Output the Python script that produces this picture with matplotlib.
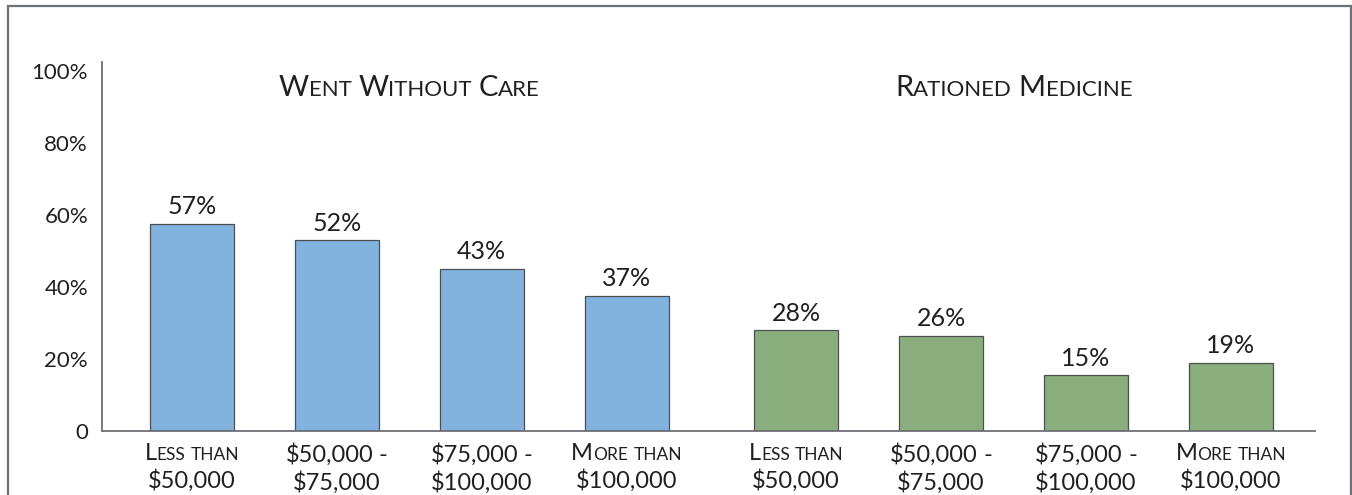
import matplotlib
matplotlib.use("Agg")
import matplotlib.pyplot as plt
from matplotlib.offsetbox import TextArea, HPacker, VPacker, AnnotationBbox
from matplotlib.patches import Rectangle

plt.rcParams['font.family'] = ['Lato', 'DejaVu Sans']

# ---- data ----
groups = ["Went Without Care", "Rationed Medicine"]
income_line1 = ["Less than", "$50,000 -", "$75,000 -", "More than"]
income_line2 = ["$50,000", "$75,000", "$100,000", "$100,000"]
went_without_care = [57.5, 53, 45, 37.5]
rationed_medicine = [28, 26.5, 15.5, 19]
went_labels = ["57%", "52%", "43%", "37%"]
rationed_labels = ["28%", "26%", "15%", "19%"]
yticks = [0, 20, 40, 60, 80, 100]
ytick_labels = ["0", "20%", "40%", "60%", "80%", "100%"]

BLUE = "#82B2DE"
GREEN = "#8AAD7D"
EDGE = "#4d4f53"
TEXT = "#231f20"
AXIS = "#6d7075"

fig = plt.figure(figsize=(13.52, 4.95), dpi=100)
# outer frame
fig.patches.append(Rectangle((7.5 / 1352, -0.1), (1350.5 - 7.5) / 1352, 1 - 6.5 / 495 + 0.1,
                             transform=fig.transFigure, fill=False, edgecolor=AXIS, lw=1.6))

ax = fig.add_axes([102 / 1352, 1 - 431 / 495, (1315 - 102) / 1352, (431 - 62) / 495])

n = len(income_line1)
gap = 0.17
x1 = [i for i in range(n)]
x2 = [n + gap + i for i in range(n)]
w = 0.58

ax.bar(x1, went_without_care, width=w, color=BLUE, edgecolor=EDGE, linewidth=0.9, zorder=2)
ax.bar(x2, rationed_medicine, width=w, color=GREEN, edgecolor=EDGE, linewidth=0.9, zorder=2)

for xs, vals, labs in [(x1, went_without_care, went_labels), (x2, rationed_medicine, rationed_labels)]:
    for x, v, l in zip(xs, vals, labs):
        ax.annotate(l, (x, v), xytext=(0, 4), textcoords="offset points",
                    ha="center", va="bottom", fontsize=18, color=TEXT)

ax.set_xlim(-0.62, x2[-1] + 0.58)
ax.set_ylim(0, 102.5)
ax.set_yticks(yticks)
ax.set_yticklabels(ytick_labels, fontsize=16, color=TEXT)
ax.tick_params(axis="y", length=0, pad=10)
ax.set_xticks([])
for s in ["top", "right"]:
    ax.spines[s].set_visible(False)
for s in ["left", "bottom"]:
    ax.spines[s].set_color(AXIS)
    ax.spines[s].set_linewidth(1.3)


def smallcaps(text, big, small, color=TEXT, wordsep=None):
    words = text.split(" ")
    if wordsep is None:
        wordsep = small * 0.3
    wboxes = []
    for wd in words:
        runs = []
        for ch in wd:
            up = not ch.islower()
            if runs and runs[-1][0] == up:
                runs[-1][1] += ch
            else:
                runs.append([up, ch])
        parts = [TextArea(s.upper(), textprops=dict(fontsize=big if up else small, color=color))
                 for up, s in runs]
        wboxes.append(HPacker(children=parts, align="baseline", pad=0, sep=0))
    return HPacker(children=wboxes, align="baseline", pad=0, sep=wordsep)


# group titles
for xs, title in [(x1, groups[0]), (x2, groups[1])]:
    cx = (xs[0] + xs[-1]) / 2
    box = smallcaps(title, 21, 16)
    ab = AnnotationBbox(box, (cx, 95.3), xycoords="data", frameon=False,
                        box_alignment=(0.5, 0.5), pad=0, annotation_clip=False)
    ax.add_artist(ab)

# x labels
for xs in [x1, x2]:
    for x, l1, l2 in zip(xs, income_line1, income_line2):
        line1 = smallcaps(l1, 17, 12.5)
        line2 = TextArea(l2, textprops=dict(fontsize=17, color=TEXT))
        vb = VPacker(children=[line1, line2], align="center", pad=0, sep=3.5)
        ab = AnnotationBbox(vb, (x, 0), xycoords=("data", "axes fraction"),
                            xybox=(0, -9), boxcoords="offset points", frameon=False,
                            box_alignment=(0.5, 1), pad=0, annotation_clip=False)
        ax.add_artist(ab)

fig.savefig("out.png", dpi=100)
